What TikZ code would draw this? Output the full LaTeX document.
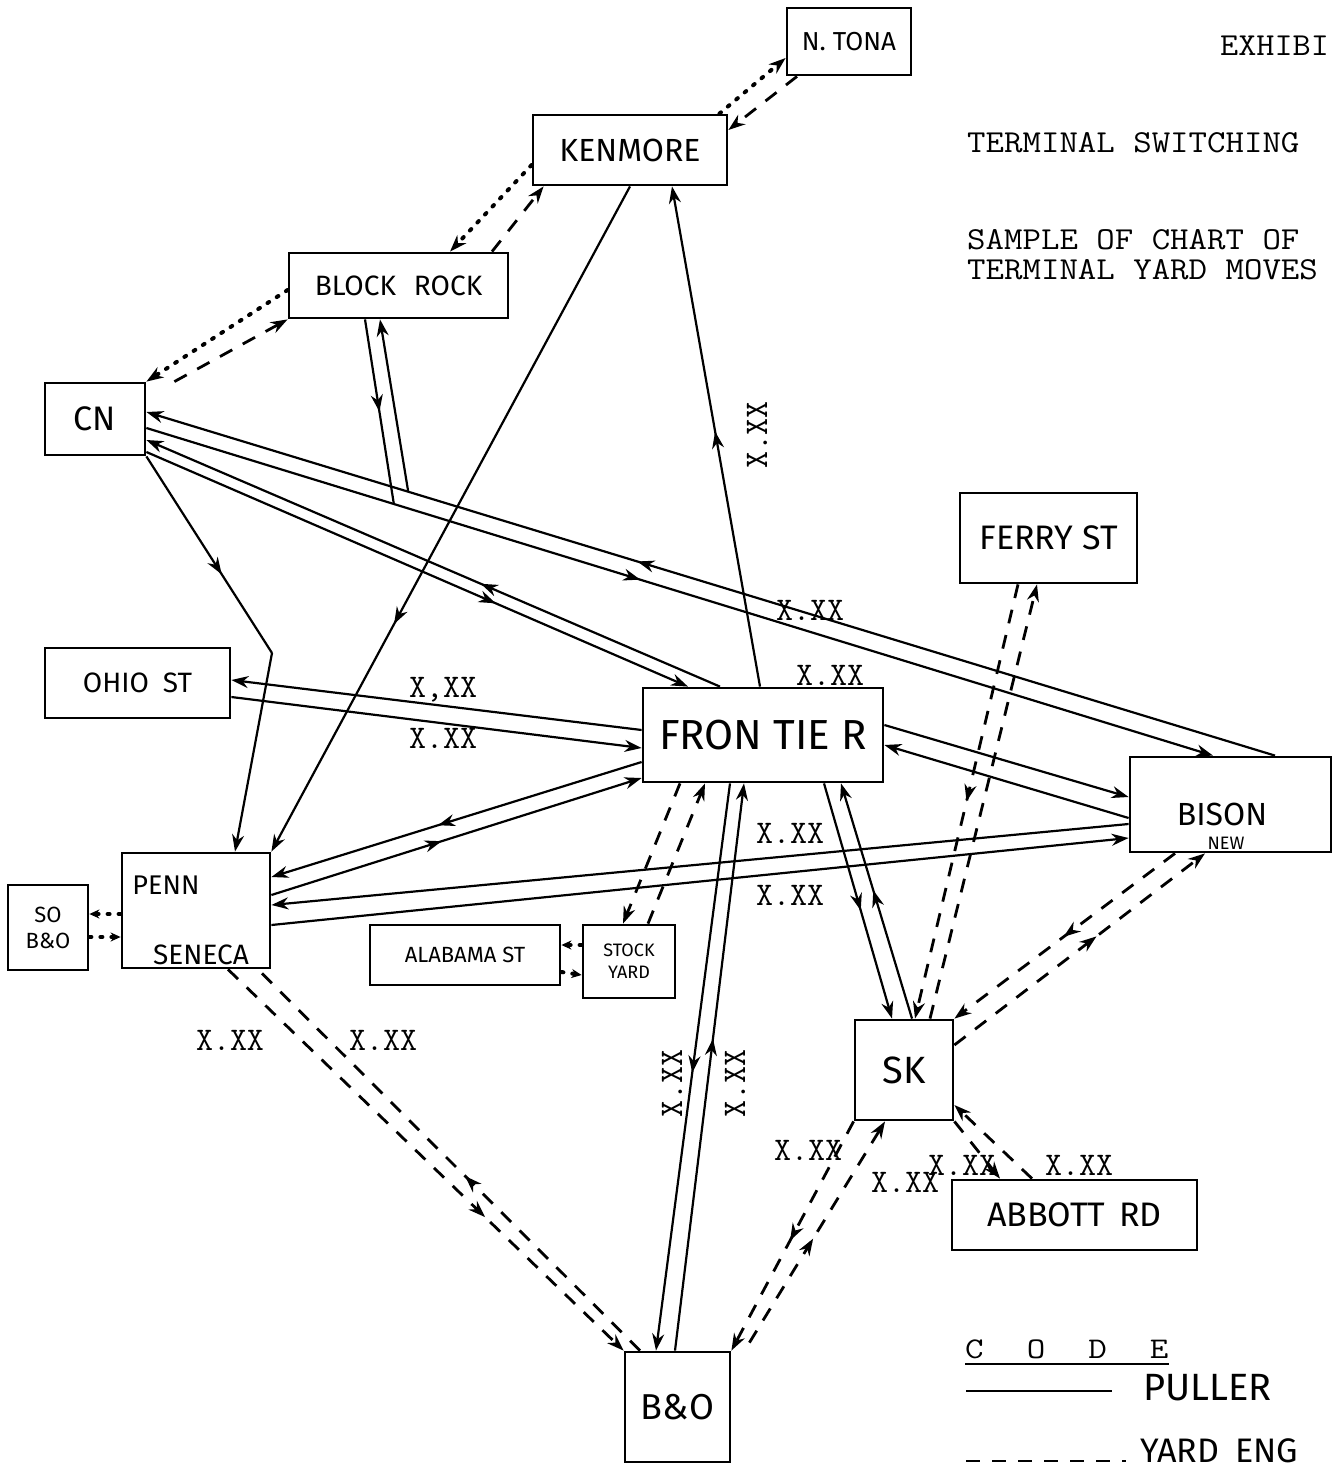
\documentclass[tikz,border=0pt]{standalone}
\usepackage{fontspec}
\newfontfamily\hand{Fira Sans}
\newcommand\myfs[1]{\fontsize{#1}{#1}\selectfont}
\usetikzlibrary{arrows.meta,decorations.markings,calc}
\tikzset{
 box/.style={draw,line width=2.8pt,inner sep=0pt},
 pul/.style={line width=2.2pt},
 yrd/.style={line width=2.8pt,dash pattern=on 14pt off 12pt},
 dotl/.style={line width=4pt,dash pattern=on 2pt off 9pt,line cap=round},
 endarr/.style={-{Stealth[length=17pt,width=12pt]}},
 smallarr/.style={-{Stealth[length=10pt,width=9pt]}},
 midarr/.style={postaction={decorate},decoration={markings,mark=at position #1 with {\arrow{Stealth[length=17pt,width=12pt]}}}},
 lab/.style={font=\ttfamily\myfs{33},inner sep=0pt},
 hd/.style={font=\ttfamily\myfs{32},inner sep=0pt,anchor=base west},
}
\begin{document}
\begin{tikzpicture}[x=1pt,y=-1pt]
\useasboundingbox (0,0) rectangle (1333,1469);
% ---------- boxes
\node[box,minimum width=124pt,minimum height=67pt,font=\hand\myfs{26}] (ntona) at (849,41.5) {N. TONA};
\node[box,minimum width=194pt,minimum height=70pt,font=\hand\myfs{32}] (kenmore) at (630,150) {KENMORE};
\node[box,minimum width=219pt,minimum height=65pt,font=\hand\myfs{28}] (blockrock) at (398.5,285.5) {BLOCK\hspace{18pt}ROCK};
\node[box,minimum width=100pt,minimum height=72pt,font=\hand\myfs{34}] (cn) at (95,419) {CN};
\node[box,minimum width=185pt,minimum height=70pt,font=\hand\myfs{28}] (ohio) at (137.5,683) {OHIO\hspace{14pt}ST};
\node[box,minimum width=148pt,minimum height=115pt] (penn) at (196,910.5) {};
\node[font=\hand\myfs{27}] (penna) at (166,885) {PENN};
\node[font=\hand\myfs{28}] (pennb) at (201,955) {SENECA};
\node[box,minimum width=80pt,minimum height=85pt,align=center,font=\hand\myfs{22}] (sobo) at (48,927.5) {SO\\[4pt]B\&O};
\node[box,minimum width=190pt,minimum height=60pt,font=\hand\myfs{22}] (alabama) at (465,955) {ALABAMA ST};
\node[box,minimum width=92pt,minimum height=73pt,align=center,font=\hand\myfs{18}] (stock) at (629,961.5) {STOCK\\[4pt]YARD};
\node[box,minimum width=240pt,minimum height=94pt,font=\hand\myfs{42}] (frontier) at (763,735) {FRON TIE R};
\node[box,minimum width=177pt,minimum height=90pt,font=\hand\myfs{34}] (ferry) at (1048.5,538) {FERRY ST};
\node[box,minimum width=201pt,minimum height=95pt] (bison) at (1230.5,804.5) {};
\node[font=\hand\myfs{32}] (bisona) at (1222,814) {BISON};
\node[font=\hand\myfs{18}] (bisonb) at (1226,843) {NEW};
\node[box,minimum width=98pt,minimum height=100pt,font=\hand\myfs{38}] (sk) at (904,1070) {SK};
\node[box,minimum width=245pt,minimum height=70pt,font=\hand\myfs{34}] (abbott) at (1074.5,1215) {ABBOTT\hspace{14pt}RD};
\node[box,minimum width=105pt,minimum height=110pt,font=\hand\myfs{36}] (bo) at (677.5,1407) {B\&O};
% ---------- puller (solid) connectors
\draw[pul,endarr,midarr=0.565] ([xshift=44.5pt]bison.north) -- ([yshift=7pt]cn.east);
\draw[pul,endarr,midarr=0.463] ([yshift=-9pt]cn.east) -- ([xshift=-17.5pt]bison.north);
\coordinate (j1) at ($([yshift=-9pt]cn.east)!0.232!([xshift=-17.5pt]bison.north)$);
\coordinate (j2) at ($([yshift=7pt]cn.east)!0.232!([xshift=44.5pt]bison.north)$);
\draw[pul,midarr=0.5] ([xshift=-33.5pt]blockrock.south) -- (j1);
\draw[pul,endarr] (j2) -- ([xshift=-18.5pt]blockrock.south);
\draw[pul,endarr,midarr=0.417] ([xshift=-43pt]frontier.north) -- ([yshift=-21pt]cn.east);
\draw[pul,endarr,midarr=0.645] ([yshift=-33pt]cn.east) -- ([xshift=-75pt]frontier.north);
\coordinate (bend) at (272,653);
\draw[pul,midarr=0.6] (cn.south east) -- (bend);
\draw[pul,endarr] (bend) -- ([xshift=39pt]penn.north);
\draw[pul,endarr,midarr=0.658] (kenmore.south) -- (penn.north east);
\draw[pul,endarr,midarr=0.51] ([xshift=-3pt]frontier.north) -- ([xshift=42pt]kenmore.south);
\draw[pul,endarr] ([yshift=5pt]frontier.west) -- ([yshift=3pt]ohio.east);
\draw[pul,endarr] ([yshift=-14pt]ohio.east) -- ([yshift=-13pt]frontier.west);
\draw[pul,endarr,midarr=0.55] ([yshift=-27pt]frontier.west) -- ([yshift=33.5pt]penn.east);
\draw[pul,endarr,midarr=0.46] ([yshift=15.5pt]penn.east) -- ([yshift=-43pt]frontier.west);
\draw[pul,endarr] ([yshift=-19.5pt]bison.west) -- ([yshift=5.5pt]penn.east);
\draw[pul,endarr] ([yshift=-14.5pt]penn.east) -- ([yshift=-33.5pt]bison.west);
\draw[pul,endarr] ([yshift=10pt]frontier.east) -- ([yshift=7.5pt]bison.west);
\draw[pul,endarr] ([yshift=-13.5pt]bison.west) -- ([yshift=-10pt]frontier.east);
\draw[pul,endarr,midarr=0.51] ([xshift=-33pt]frontier.south) -- ([xshift=-21.5pt]bo.north);
\draw[pul,endarr,midarr=0.55] ([xshift=-2.5pt]bo.north) -- ([xshift=-19pt]frontier.south);
\draw[pul,endarr,midarr=0.54] ([xshift=61pt]frontier.south) -- ([xshift=-12pt]sk.north);
\draw[pul,endarr,midarr=0.546] ([xshift=8pt]sk.north) -- ([xshift=78pt]frontier.south);
% ---------- yard engine (dashed) connectors
\draw[yrd,endarr] ([xshift=-83pt]frontier.south) -- ([xshift=-6pt]stock.north);
\draw[yrd,endarr] ([xshift=19pt]stock.north) -- ([xshift=-58pt]frontier.south);
\draw[yrd,endarr,midarr=0.65] ([xshift=32pt]penn.south) -- (bo.north west);
\draw[yrd,midarr=0.458] ([xshift=-37.5pt]bo.north) -- ([xshift=62pt]penn.south);
\draw[yrd,endarr,midarr=0.52] (sk.south west) -- (bo.north east);
\draw[yrd,endarr,midarr=0.47] ([xshift=18pt,yshift=8pt]bo.north east) -- ([xshift=-19pt]sk.south);
\draw[yrd,endarr] (sk.south east) -- ([xshift=-74.5pt]abbott.north);
\draw[yrd,endarr] ([xshift=-42.5pt]abbott.north) -- ([yshift=-35pt]sk.east);
\draw[yrd,endarr,midarr=0.505] ([xshift=-55.5pt]bison.south) -- (sk.north east);
\draw[yrd,endarr,midarr=0.567] ([yshift=25pt]sk.east) -- ([xshift=-25.5pt]bison.south);
\draw[yrd,endarr,midarr=0.5] ([xshift=-30.5pt]ferry.south) -- ([xshift=11pt]sk.north);
\draw[yrd,endarr] ([xshift=26pt]sk.north) -- ([xshift=-11.5pt]ferry.south);
\draw[yrd,endarr] ([xshift=-52pt]ntona.south) -- ([yshift=20pt]kenmore.east);
\draw[yrd,endarr] ([xshift=93.5pt]blockrock.north) -- ([xshift=12pt]kenmore.south west);
\draw[yrd,endarr] ([xshift=28pt]cn.north east) -- (blockrock.south west);
% ---------- dotted connectors
\draw[dotl,endarr] ([xshift=-9pt]kenmore.north east) -- ([yshift=-16.5pt]ntona.west);
\draw[dotl,endarr] ([yshift=-15pt]kenmore.west) -- ([xshift=51.5pt]blockrock.north);
\draw[dotl,endarr] ([yshift=-4.5pt]blockrock.west) -- (cn.north east);
\draw[dotl,smallarr] ([yshift=-3.5pt]penn.west) -- ([yshift=13.5pt]sobo.east);
\draw[dotl,smallarr] ([yshift=-9.5pt]sobo.east) -- ([yshift=-26.5pt]penn.west);
\draw[dotl,smallarr] ([yshift=16.5pt]stock.west) -- ([yshift=10pt]alabama.east);
\draw[dotl,smallarr] ([yshift=-17pt]alabama.east) -- ([yshift=-13.5pt]stock.west);
% ---------- time labels
\node[lab,rotate=90] (l1) at (757,435) {X.XX};
\node[lab] (l2) at (810,610) {X.XX};
\node[lab] (l3) at (830,675) {X.XX};
\node[lab] (l4) at (443,690) {X,XX};
\node[lab] (l5) at (443,738) {X.XX};
\node[lab] (l6) at (790,833) {X.XX};
\node[lab] (l7) at (790,895) {X.XX};
\node[lab] (l8) at (230,1040) {X.XX};
\node[lab] (l9) at (383,1040) {X.XX};
\node[lab,rotate=90] (l10) at (672,1083) {X.XX};
\node[lab,rotate=90] (l11) at (735,1083) {X.XX};
\node[lab] (l12) at (808,1150) {X.XX};
\node[lab] (l13) at (905,1182) {X.XX};
\node[lab] (l14) at (962,1165) {X.XX};
\node[lab] (l15) at (1079,1165) {X.XX};
% ---------- headings
\node[hd] (t1) at (1220,56) {\scalebox{1.1}[1]{EXHIBI}};
\node[hd] (t2) at (967,152) {\scalebox{1.12}[1]{TERMINAL SWITCHING}};
\node[hd] (t3) at (967,249) {\scalebox{1.12}[1]{SAMPLE OF CHART OF}};
\node[hd] (t4) at (967,279) {\scalebox{1.12}[1]{TERMINAL YARD MOVES}};
% ---------- legend
\node[font=\ttfamily\myfs{30},inner sep=0pt,anchor=base west] (code) at (965,1358) {\scalebox{1.2}[1]{C}\hspace{43pt}\scalebox{1.2}[1]{O}\hspace{43pt}\scalebox{1.2}[1]{D}\hspace{43pt}\scalebox{1.2}[1]{E}};
\draw[line width=1.4pt] ([yshift=-6pt]code.base west) -- ([yshift=-6pt]code.base east);
\node[font=\hand\myfs{38},anchor=west] (puller) at (1140,1388) {PULLER};
\coordinate (pl1) at (966,1391);
\coordinate (pl2) at (1112,1391);
\draw[pul] (pl1) -- (pl2);
\node[font=\hand\myfs{34},anchor=south west,inner sep=0pt] (yard) at (1140,1463) {YARD\hspace{16pt}ENG};
\coordinate (yl1) at (966,1461);
\coordinate (yl2) at (1126,1461);
\draw[yrd] (yl1) -- (yl2);
\end{tikzpicture}
\end{document}
